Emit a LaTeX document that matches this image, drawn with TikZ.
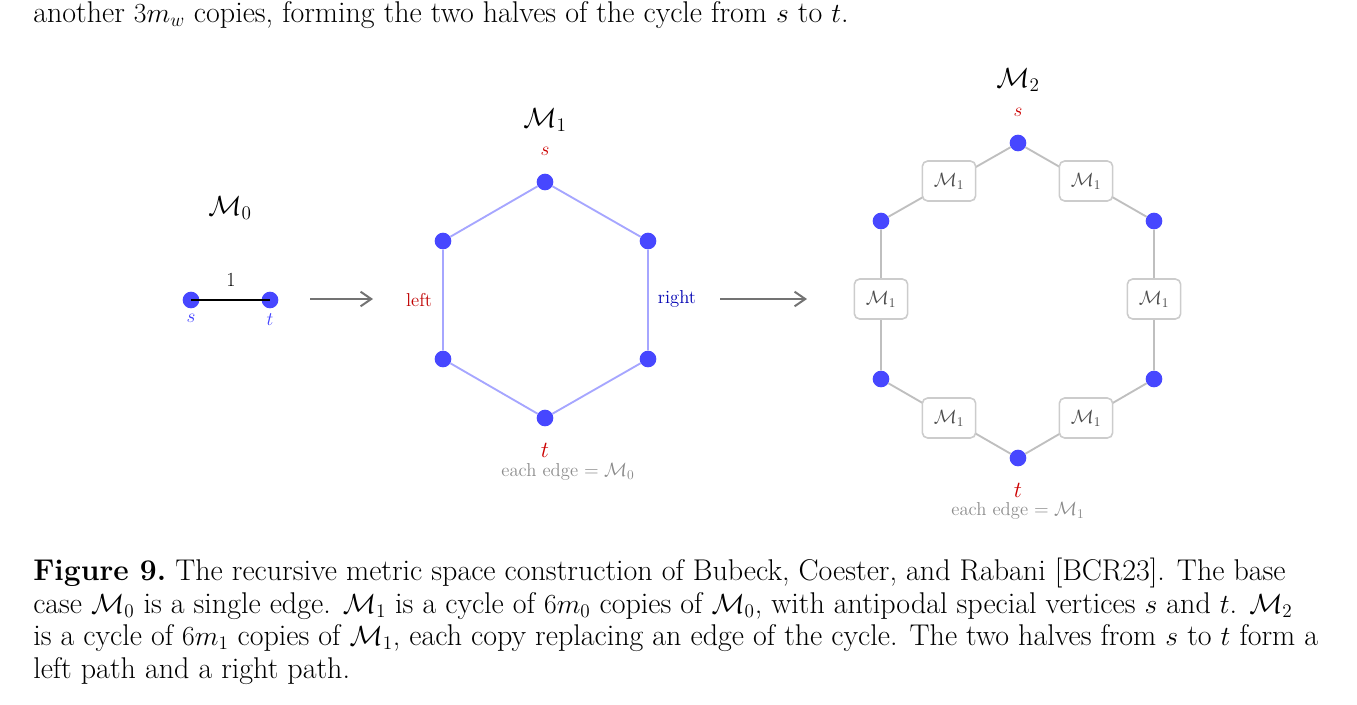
\documentclass[tikz,border=0pt]{standalone}
\usepackage{amsmath}
\usetikzlibrary{arrows.meta}
\begin{document}
\begin{tikzpicture}[x=0.75pt,y=-0.75pt,
  dot/.style={circle,fill=blue!72!white,inner sep=0pt,minimum size=12.5pt},
  box/.style={draw=black!20,line width=1.2pt,rounded corners=4pt,fill=white,minimum width=40pt,minimum height=30pt,font=\fontsize{14}{16}\selectfont,text=black!70},
  hexe/.style={blue!35,line width=1.4pt},
  gre/.style={black!25,line width=1.4pt},
  arr/.style={black!55,line width=1.5pt,-{Straight Barb[length=8pt,width=11pt]}},
  body/.style={anchor=base west,inner sep=0pt,font=\fontsize{22.5}{24}\selectfont},
  big/.style={font=\fontsize{21.5}{24}\selectfont},
  sml/.style={font=\fontsize{14}{16}\selectfont}]
\useasboundingbox (0,0) rectangle (1357,704);
\node[body] (top) at (33,22) {another $3m_w$ copies, forming the two halves of the cycle from $s$ to $t$.};
% M0
\node[big] (m0) at (230,208) {$\mathcal{M}_0$};
\node[dot] (s0) at (191,300) {};
\node[dot] (t0) at (270,300) {};
\draw[black,line width=2pt] (s0.center) -- (t0.center);
\node[font=\fontsize{15}{17}\selectfont] (one) at (231,280) {1};
\node[sml,text=blue!75] (s0l) at (191,318) {$s$};
\node[sml,text=blue!75] (t0l) at (270,320) {$t$};
\coordinate (a1s) at (310,299); \coordinate (a1e) at (373,299);
\draw[arr] (a1s) -- (a1e);
% M1
\node[big] (m1) at (545,120) {$\mathcal{M}_1$};
\node[dot] (h1) at (545,182) {};
\node[dot] (h2) at (648,241) {};
\node[dot] (h3) at (648,359) {};
\node[dot] (h4) at (545,418) {};
\node[dot] (h5) at (443,359) {};
\node[dot] (h6) at (443,241) {};
\draw[hexe] (h1) -- (h2) -- (h3) -- (h4) -- (h5) -- (h6) -- (h1);
\node[sml,text=red!80!black] (s1l) at (545,151) {$s$};
\node[font=\fontsize{17}{19}\selectfont,text=red!80!black] (t1l) at (545,450) {$t$};
\node[sml,text=black!45] (e1) at (568,472) {each edge $=\mathcal{M}_0$};
\node[sml,text=red!75!black] (lft) at (419,300) {left};
\node[sml,text=blue!70!black] (rgt) at (677,299) {right};
\coordinate (a2s) at (720,299); \coordinate (a2e) at (807,299);
\draw[arr] (a2s) -- (a2e);
% M2
\node[big] (m2) at (1018,80) {$\mathcal{M}_2$};
\node[sml,text=red!80!black] (s2l) at (1018,112) {$s$};
\node[font=\fontsize{17}{19}\selectfont,text=red!80!black] (t2l) at (1018,490) {$t$};
\node[sml,text=black!45] (e2) at (1018,511) {each edge $=\mathcal{M}_1$};
\node[dot] (v1) at (1018,143) {};
\node[dot] (v2) at (1154,221) {};
\node[dot] (v3) at (1154,379) {};
\node[dot] (v4) at (1018,458) {};
\node[dot] (v5) at (881,379) {};
\node[dot] (v6) at (881,221) {};
\draw[gre] (v1)--(v2)--(v3)--(v4)--(v5)--(v6)--(v1);
\node[box] (b1) at (1086,181) {$\mathcal{M}_1$};
\node[box] (b2) at (1154,299) {$\mathcal{M}_1$};
\node[box] (b3) at (1086,418) {$\mathcal{M}_1$};
\node[box] (b4) at (949,418) {$\mathcal{M}_1$};
\node[box] (b5) at (881,299) {$\mathcal{M}_1$};
\node[box] (b6) at (949,181) {$\mathcal{M}_1$};
% caption
\node[body] (c1) at (33,580) {\textbf{Figure 9.}\ The recursive metric space construction of Bubeck, Coester, and Rabani [BCR23]. The base};
\node[body] (c2) at (33,613) {case $\mathcal{M}_0$ is a single edge. $\mathcal{M}_1$ is a cycle of $6m_0$ copies of $\mathcal{M}_0$, with antipodal special vertices $s$ and $t$. $\mathcal{M}_2$};
\node[body] (c3) at (33,645) {is a cycle of $6m_1$ copies of $\mathcal{M}_1$, each copy replacing an edge of the cycle. The two halves from $s$ to $t$ form a};
\node[body] (c4) at (33,678) {left path and a right path.};
\end{tikzpicture}
\end{document}
